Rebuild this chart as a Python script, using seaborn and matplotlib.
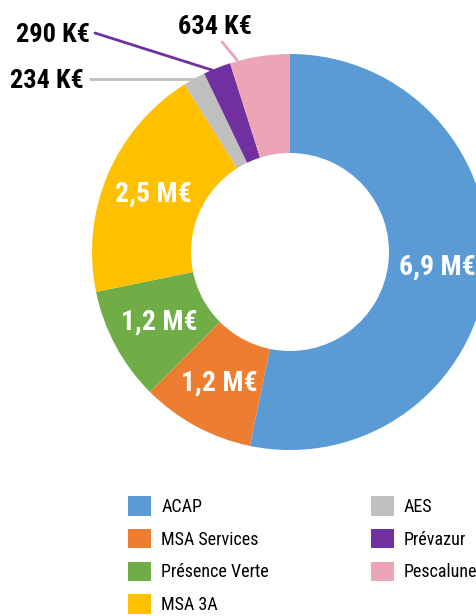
import numpy as np
import matplotlib
matplotlib.use("Agg")
import matplotlib.pyplot as plt
import seaborn as sns

segments = ["ACAP", "MSA Services", "Présence Verte", "MSA 3A", "AES", "Prévazur", "Pescalune"]
amounts_keur = [6900, 1200, 1200, 2500, 234, 290, 634]
value_labels = ["6,9 M€", "1,2 M€", "1,2 M€", "2,5 M€", "234 K€", "290 K€", "634 K€"]
palette = ["#5B9BD5", "#ED7D31", "#70AD47", "#FFC000", "#BFBFBF", "#7030A0", "#EBA5B7"]

sns.set_theme(style="white")
plt.rcParams['font.family'] = ['Roboto Condensed', 'Archivo Narrow', 'PT Sans Narrow', 'DejaVu Sans']

W, H = 477, 616
fig = plt.figure(figsize=(W / 100, H / 100), dpi=100)

# donut centre (290, 252) px from top-left, outer radius 198 px; right side runs off the figure
cx, cy, R = 290, 252, 198
ax = fig.add_axes([(cx - R) / W, (H - cy - R) / H, 2 * R / W, 2 * R / H])

wedges, _ = ax.pie(amounts_keur, colors=palette, startangle=90, counterclock=False,
                   radius=1, wedgeprops=dict(width=0.5, linewidth=0))
ax.set_xlim(-1, 1)
ax.set_ylim(-1, 1)
ax.set_aspect('equal')
ax.axis('off')
for w in wedges:
    w.set_clip_on(False)

# labels inside the big segments
for w, lab in list(zip(wedges, value_labels))[:4]:
    mid = np.deg2rad((w.theta1 + w.theta2) / 2)
    ax.text(0.75 * np.cos(mid), 0.75 * np.sin(mid), lab, color="white", fontsize=20,
            fontweight="bold", ha="center", va="center")

# small segments: outside labels with leader lines
callouts = {
    4: dict(text=(-1.04, 0.862), ha="right", line=[(-1.01, 0.874), (-0.47, 0.874)]),
    5: dict(text=(-1.01, 1.094), ha="right", line=[(-0.985, 1.106), (-0.394, 0.919)]),
    6: dict(text=(-0.379, 1.134), ha="center", line=[(-0.343, 1.061), (-0.268, 0.970)]),
}
for i, c in callouts.items():
    (x0, y0), (x1, y1) = c["line"]
    ax.plot([x0, x1], [y0, y1], color=palette[i], lw=2, clip_on=False)
    ax.text(c["text"][0], c["text"][1], value_labels[i], color="black", fontsize=19,
            fontweight="bold", ha=c["ha"], va="center", clip_on=False)

leg = fig.legend(wedges, segments, ncol=2, loc="upper left", bbox_to_anchor=(121 / W, 1 - 489 / H),
                 frameon=False, fontsize=13, handlelength=1.27, handleheight=1.27,
                 handletextpad=0.55, labelspacing=0.72, columnspacing=5.65, borderaxespad=0)
for t in leg.get_texts():
    t.set_color("black")

fig.savefig("out.png", dpi=100)
